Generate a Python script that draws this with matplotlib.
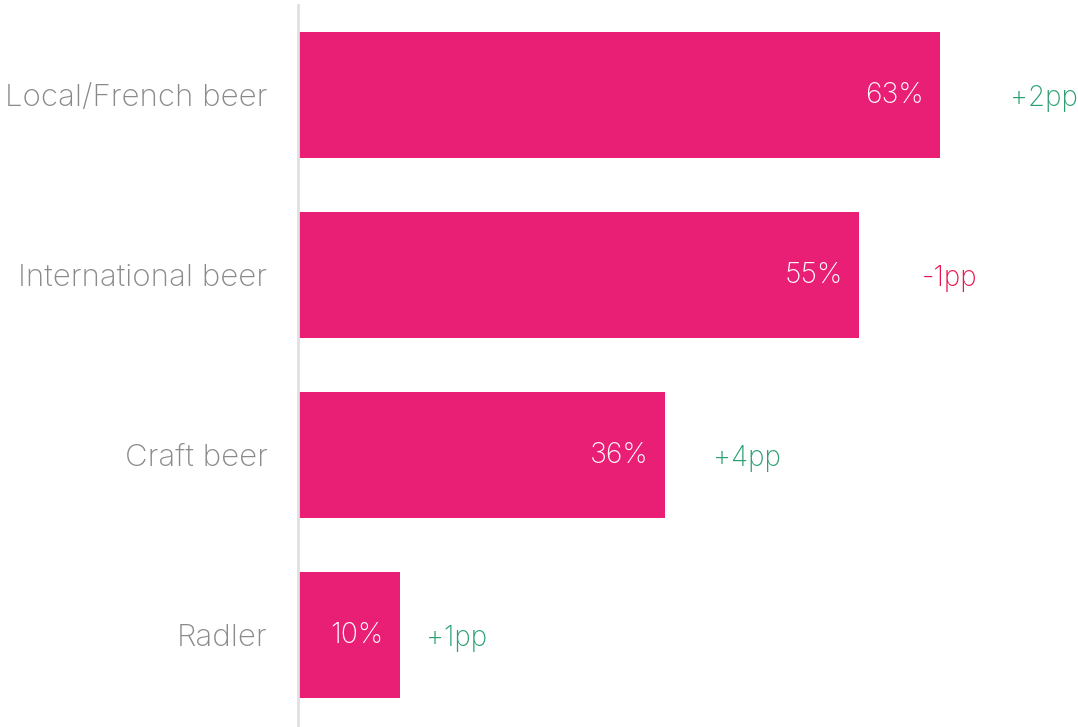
import matplotlib.pyplot as plt

# Beer type preference, share of respondents and change vs previous wave
categories = ['Local/French beer', 'International beer', 'Craft beer', 'Radler']
shares = [63, 55, 36, 10]
changes = ['+2pp', '-1pp', '+4pp', '+1pp']
change_dirs = [1, -1, 1, 1]

BAR = '#E91E75'
UP = '#2BA072'
DOWN = '#E5174D'
LABEL = '#8A8A8A'

plt.rcParams['font.family'] = ['Inter', 'DejaVu Sans']

fig = plt.figure(figsize=(10.78, 7.27), dpi=100)
ax = fig.add_axes([298 / 1078, 0, 780 / 1078, 722 / 727])

y = range(len(categories))
bars = ax.barh(y, shares, height=0.7, color=BAR)

ax.set_xlim(0, 76.5)
ax.set_ylim(3.51, -0.5)

# value inside the bar, change label to the right
for i, (v, c, d) in enumerate(zip(shares, changes, change_dirs)):
    ax.text(v - 1.6, i, f'{v}%', ha='right', va='center', color='white',
            fontsize=20.5, fontweight='light')
    ax.text(v * 1.08 + 1.8, i + 0.02, c, ha='left', va='center',
            color=UP if d > 0 else DOWN, fontsize=20, fontweight='light')

ax.set_yticks(list(y))
ax.set_yticklabels(categories, fontsize=22.5, color=LABEL, fontweight='light')
ax.tick_params(axis='y', length=0, pad=22)
ax.set_xticks([])

for s in ['top', 'right', 'bottom']:
    ax.spines[s].set_visible(False)
ax.spines['left'].set_color('#E0E0E0')
ax.spines['left'].set_linewidth(2)

fig.savefig('out.png', dpi=100, facecolor='white')
